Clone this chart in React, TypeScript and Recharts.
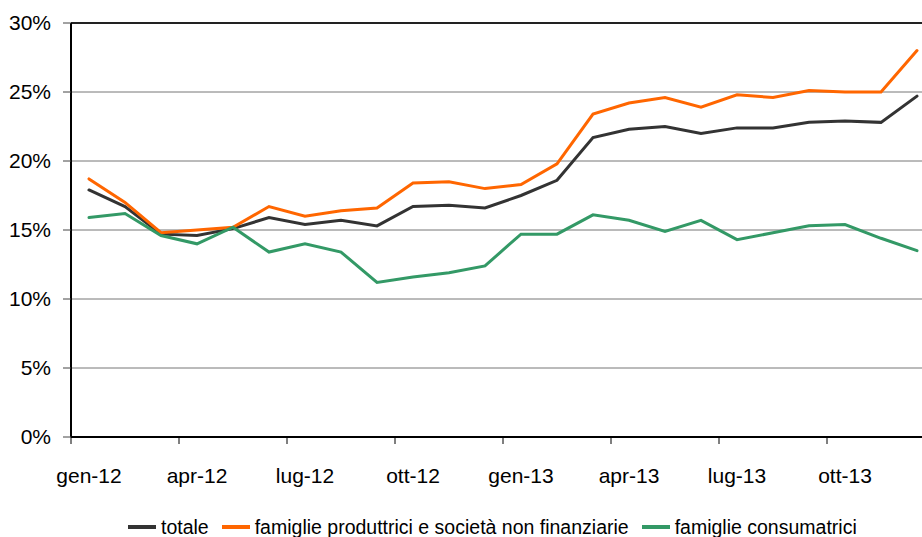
import { LineChart, Line, XAxis, YAxis, CartesianGrid, ReferenceLine } from "recharts";

const MONTHS = [
  "gen-12", "feb-12", "mar-12", "apr-12", "mag-12", "giu-12",
  "lug-12", "ago-12", "set-12", "ott-12", "nov-12", "dic-12",
  "gen-13", "feb-13", "mar-13", "apr-13", "mag-13", "giu-13",
  "lug-13", "ago-13", "set-13", "ott-13", "nov-13", "dic-13",
];

const TOTALE = [
  17.9, 16.7, 14.7, 14.6, 15.1, 15.9, 15.4, 15.7, 15.3, 16.7, 16.8, 16.6,
  17.5, 18.6, 21.7, 22.3, 22.5, 22.0, 22.4, 22.4, 22.8, 22.9, 22.8, 24.7,
];

const PRODUTTRICI = [
  18.7, 17.0, 14.8, 15.0, 15.2, 16.7, 16.0, 16.4, 16.6, 18.4, 18.5, 18.0,
  18.3, 19.8, 23.4, 24.2, 24.6, 23.9, 24.8, 24.6, 25.1, 25.0, 25.0, 28.0,
];

const CONSUMATRICI = [
  15.9, 16.2, 14.6, 14.0, 15.2, 13.4, 14.0, 13.4, 11.2, 11.6, 11.9, 12.4,
  14.7, 14.7, 16.1, 15.7, 14.9, 15.7, 14.3, 14.8, 15.3, 15.4, 14.4, 13.5,
];

const X_TICKS = [0, 3, 6, 9, 12, 15, 18, 21];
const Y_TICKS = [0, 5, 10, 15, 20, 25, 30];

const SERIES = [
  { key: "totale", label: "totale", color: "#333333" },
  { key: "produttrici", label: "famiglie produttrici e società non finanziarie", color: "#ff6600" },
  { key: "consumatrici", label: "famiglie consumatrici", color: "#339966" },
];

const FONT = '"Liberation Sans", Arial, sans-serif';
const Y_AXIS_W = 71;
const PLOT_W = 864;
const HALF_CAT = PLOT_W / MONTHS.length / 2;

const data = MONTHS.map((month, i) => ({
  idx: i,
  month,
  totale: TOTALE[i],
  produttrici: PRODUTTRICI[i],
  consumatrici: CONSUMATRICI[i],
}));

function MonthTick(props: any) {
  const { x, y, payload } = props;
  return (
    <g>
      <line x1={x - HALF_CAT} x2={x - HALF_CAT} y1={y} y2={y + 7} stroke="#000" strokeWidth={1} />
      <text x={x} y={y + 46} textAnchor="middle" fontSize={21} fontFamily={FONT} fill="#000">
        {MONTHS[payload.value]}
      </text>
    </g>
  );
}

export default function App() {
  return (
    <div style={{ position: "relative", width: 922, height: 537, overflow: "hidden", background: "#fff" }}>
      <style>{"body{margin:0}"}</style>
      <LineChart
        width={Y_AXIS_W + PLOT_W + 3}
        height={537}
        data={data}
        margin={{ top: 23, right: 3, left: 0, bottom: 0 }}
      >
        <CartesianGrid vertical={false} stroke="#777" strokeWidth={1} />
        <XAxis
          dataKey="idx"
          type="number"
          domain={[-0.5, 23.5]}
          ticks={X_TICKS}
          height={100}
          tick={<MonthTick />}
          tickLine={false}
          tickSize={0}
          tickMargin={0}
          axisLine={{ stroke: "#000", strokeWidth: 2 }}
        />
        <YAxis
          domain={[0, 30]}
          ticks={Y_TICKS}
          width={Y_AXIS_W}
          tickFormatter={(v) => `${v}%`}
          tick={{ fontSize: 21, fontFamily: FONT, fill: "#000" }}
          tickLine={{ stroke: "#444" }}
          tickSize={8}
          tickMargin={12}
          axisLine={{ stroke: "#000", strokeWidth: 2 }}
        />
        <ReferenceLine y={30} stroke="#222" strokeWidth={2} />
        {SERIES.map((s) => (
          <Line
            key={s.key}
            dataKey={s.key}
            type="linear"
            stroke={s.color}
            strokeWidth={3}
            dot={false}
            activeDot={false}
            isAnimationActive={false}
            strokeLinecap="round"
          />
        ))}
      </LineChart>
      <div
        style={{
          position: "absolute",
          left: 128,
          top: 517,
          display: "flex",
          alignItems: "center",
          fontFamily: FONT,
          fontSize: 19.5,
          lineHeight: "20px",
          color: "#000",
          whiteSpace: "nowrap",
        }}
      >
        {SERIES.map((s) => (
          <div key={s.key} style={{ display: "flex", alignItems: "center", marginRight: 13 }}>
            <span style={{ display: "inline-block", width: 28, height: 4, background: s.color, marginRight: 5 }} />
            <span>{s.label}</span>
          </div>
        ))}
      </div>
    </div>
  );
}
